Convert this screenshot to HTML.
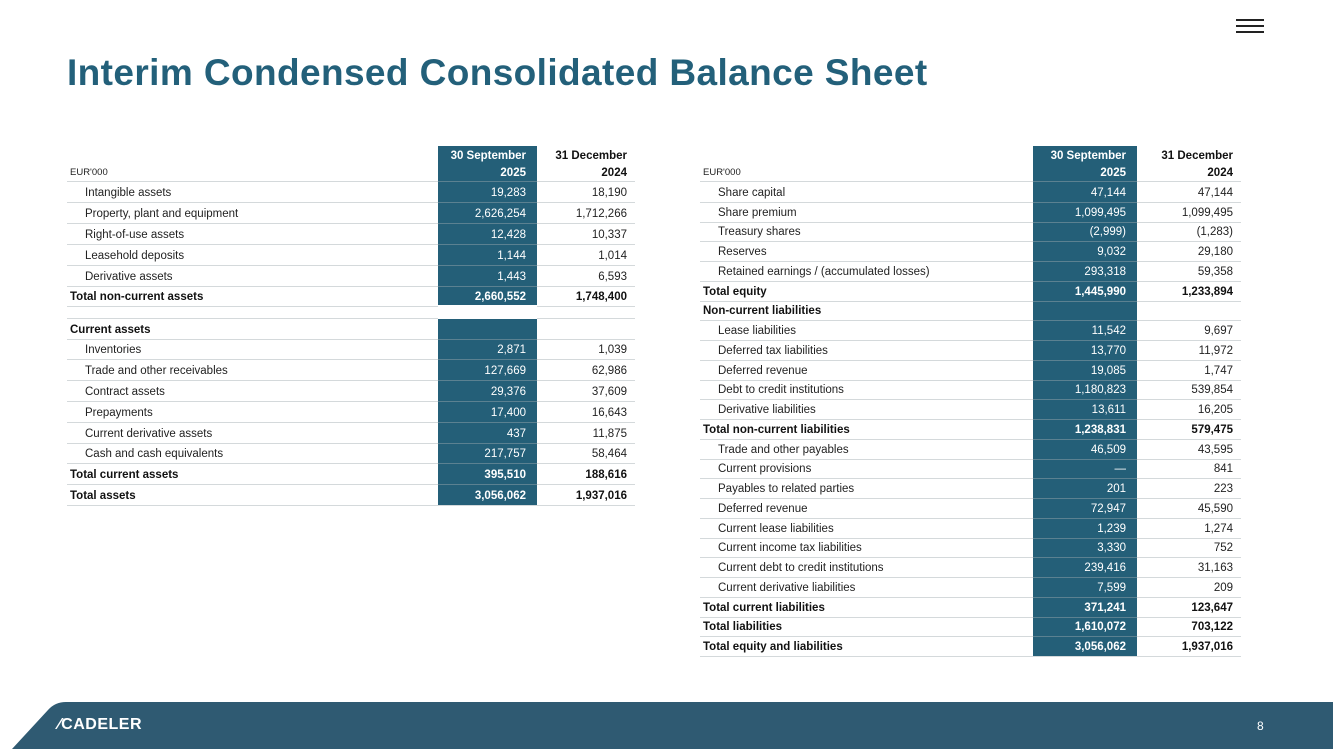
<!DOCTYPE html>
<html><head><meta charset="utf-8"><style>
body{margin:0;width:1333px;height:749px;overflow:hidden;background:#fff;font-family:"Liberation Sans",sans-serif;position:relative}
.t{position:absolute;font-size:11.5px;color:#222;white-space:nowrap;line-height:14px}
.b{font-weight:bold;color:#111}
.w{color:#fff}
.ln{position:absolute;height:1px;background:rgba(160,170,175,0.45)}
.box{position:absolute;background:#245f78}
</style></head><body>
<div style="position:absolute;left:1236px;top:19px;width:28px;height:14px">
<div style="position:absolute;top:0;width:28px;height:2px;background:#222"></div>
<div style="position:absolute;top:6px;width:28px;height:2px;background:#222"></div>
<div style="position:absolute;top:12px;width:28px;height:2px;background:#222"></div></div>
<div style="position:absolute;left:67px;top:52px;font-size:37px;letter-spacing:0.4px;font-weight:bold;color:#23607a">Interim Condensed Consolidated Balance Sheet</div>
<div id="left"></div>
<div id="right"></div>
<svg style="position:absolute;left:0;top:702px" width="1333" height="47"><path d="M12 47 L48 8 Q55 0 66 0 L1333 0 L1333 47 Z" fill="#2f5a72"/></svg>
<div style="position:absolute;left:58px;top:716px;color:#fff;font-weight:bold;font-size:16px;letter-spacing:0.5px">&#x2044;CADELER</div>
<div style="position:absolute;left:1257px;top:719px;color:#fff;font-size:12px">8</div>
<script>
const leftRows=[["Intangible assets","19,283","18,190","i"],["Property, plant and equipment","2,626,254","1,712,266","i"],["Right-of-use assets","12,428","10,337","i"],["Leasehold deposits","1,144","1,014","i"],["Derivative assets","1,443","6,593","i"],["Total non-current assets","2,660,552","1,748,400","b"],["Current assets","","","b"],["Inventories","2,871","1,039","i"],["Trade and other receivables","127,669","62,986","i"],["Contract assets","29,376","37,609","i"],["Prepayments","17,400","16,643","i"],["Current derivative assets","437","11,875","i"],["Cash and cash equivalents","217,757","58,464","i"],["Total current assets","395,510","188,616","b"],["Total assets","3,056,062","1,937,016","b"]];
const leftY=[192,213,234,255,276,296,329,349,370,391,412,433,453,474,495];
const rightRows=[["Share capital","47,144","47,144","i"],["Share premium","1,099,495","1,099,495","i"],["Treasury shares","(2,999)","(1,283)","i"],["Reserves","9,032","29,180","i"],["Retained earnings / (accumulated losses)","293,318","59,358","i"],["Total equity","1,445,990","1,233,894","b"],["Non-current liabilities","","","b"],["Lease liabilities","11,542","9,697","i"],["Deferred tax liabilities","13,770","11,972","i"],["Deferred revenue","19,085","1,747","i"],["Debt to credit institutions","1,180,823","539,854","i"],["Derivative liabilities","13,611","16,205","i"],["Total non-current liabilities","1,238,831","579,475","b"],["Trade and other payables","46,509","43,595","i"],["Current provisions","—","841","i"],["Payables to related parties","201","223","i"],["Deferred revenue","72,947","45,590","i"],["Current lease liabilities","1,239","1,274","i"],["Current income tax liabilities","3,330","752","i"],["Current debt to credit institutions","239,416","31,163","i"],["Current derivative liabilities","7,599","209","i"],["Total current liabilities","371,241","123,647","b"],["Total liabilities","1,610,072","703,122","b"],["Total equity and liabilities","3,056,062","1,937,016","b"]];
const rightY=[];for(let i=0;i<24;i++)rightY.push(192+i*19.74);
function txt(p,s,x,y,cls,right){const d=document.createElement('div');d.className='t '+cls;d.textContent=s;
if(right){d.style.right=(1333-x)+'px';}else d.style.left=x+'px';d.style.top=(y-6)+'px';p.appendChild(d);return d;}
function build(id,rows,ys,L,boxX,boxW,c2R,bottom,pre){
const p=document.getElementById(id);
const bx=document.createElement('div');bx.className='box';bx.style.left=boxX+'px';bx.style.width=boxW+'px';bx.style.top='146px';bx.style.height=(bottom-146)+'px';


p.appendChild(bx);
let e=txt(p,"EUR'000",L,172,'','');e.style.fontSize='9.5px';


e=txt(p,'30 September',boxX+boxW-11,155,'b w',1);


txt(p,'2025',boxX+boxW-11,172,'b w',1);
e=txt(p,'31 December',c2R,155,'b',1);


txt(p,'2024',c2R,172,'b',1);
const hl=document.createElement('div');hl.className='ln';hl.style.left=(L-3)+'px';hl.style.width=(c2R-L+11)+'px';hl.style.top='181px';p.appendChild(hl);
rows.forEach((r,i)=>{const y=ys[i];const bold=r[3]==='b';
const a=txt(p,r[0],bold?L:L+15,y,bold?'b':'','');


const v1=txt(p,r[1],boxX+boxW-11,y,bold?'b w':'w',1);


const v2=txt(p,r[2],c2R,y,bold?'b':'',1);


const ln=document.createElement('div');ln.className='ln';ln.style.left=(L-3)+'px';ln.style.width=(c2R-L+11)+'px';ln.style.top=Math.round(y+10)+'px';p.appendChild(ln);
if(id==='left'&&i===5){const l2=ln.cloneNode();l2.style.top='318px';p.appendChild(l2);const w=document.createElement('div');w.style.cssText='position:absolute;left:438px;width:99px;top:305px;height:14px;background:#fff';p.appendChild(w);}
});}
build('left',leftRows,leftY,70,438,99,627,505,'assets');
build('right',rightRows,rightY,703,1033,104,1233,656,'liabilities');
</script>
</body></html>
